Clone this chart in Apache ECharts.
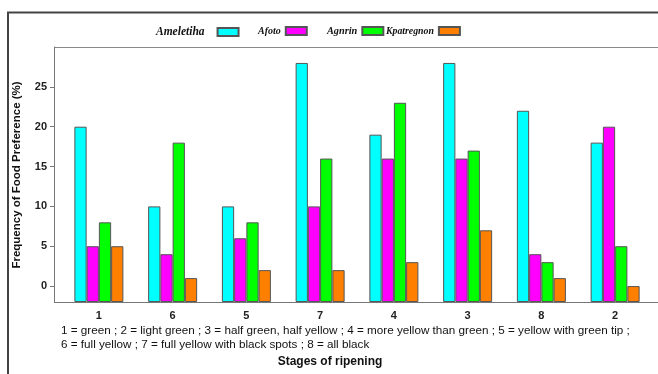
<!DOCTYPE html>
<html><head><meta charset="utf-8">
<script src="https://cdn.jsdelivr.net/npm/echarts@6/dist/echarts.min.js"></script>
<style>html,body{margin:0;padding:0;background:#fff}#c{width:658px;height:374px}</style>
</head><body><div id="c"></div>
<script>
const categories = ['1','6','5','7','4','3','8','2'];
const seriesNames = ['Ameletiha','Afoto','Agnrin','Kpatregnon'];
const ameletiha = [20,10,10,28,19,28,22,18];
const afoto = [5,4,6,10,16,16,4,20];
const agnrin = [8,18,8,16,23,17,3,5];
const kpatregnon = [5,1,2,2,3,7,1,0];
const yTicks = [0,5,10,15,20,25];
const colors = ['#00FFFF','#FF00FF','#00FF00','#FF7F00'];
const footnote1 = '1 = green ; 2 = light green ; 3 = half green, half yellow ; 4 = more yellow than green ; 5 = yellow with green tip ;';
const footnote2 = '6 = full yellow ; 7 = full yellow with black spots ; 8 = all black';
const xTitle = 'Stages of ripening';
const yTitle = 'Frequency of Food Preference (%)';

const allData = [ameletiha, afoto, agnrin, kpatregnon];
const legendPos = [
  {left: 156, size: 11.5, pad: 8},
  {left: 258, size: 10, pad: 0},
  {left: 327, size: 10.3, pad: 0},
  {left: 386, size: 9.8, pad: 0}
];

const chart = echarts.init(document.getElementById('c'), null, {renderer: 'canvas'});
chart.setOption({
  animation: false,
  backgroundColor: '#fff',
  grid: {left: 62, right: 6, top: 47, bottom: 72, containLabel: false},
  legend: seriesNames.map((n, i) => ({
    data: [n], left: legendPos[i].left, top: 26, padding: 0, align: 'right',
    itemWidth: 21, itemHeight: 8, itemGap: 0, icon: 'rect',
    textStyle: {fontFamily: 'Liberation Serif', fontStyle: 'italic', fontWeight: 'bold',
      fontSize: legendPos[i].size, color: '#111', padding: [0, legendPos[i].pad, 0, 0]}
  })),
  xAxis: {
    type: 'category', data: categories,
    axisLine: {show: false}, axisTick: {show: false},
    axisLabel: {fontFamily: 'Liberation Sans', fontWeight: 'bold', fontSize: 11, color: '#222', margin: 8}
  },
  yAxis: {
    type: 'value', min: -2, max: 30, startValue: -2, offset: 8,
    axisLine: {show: true, lineStyle: {color: '#777', width: 1}},
    axisTick: {show: true, length: 4, customValues: yTicks, lineStyle: {color: '#777'}},
    axisLabel: {customValues: yTicks, margin: 7, fontFamily: 'Liberation Sans', fontWeight: 'bold', fontSize: 11, color: '#222'},
    splitLine: {show: false}
  },
  series: seriesNames.map((n, i) => ({
    name: n, type: 'bar', data: allData[i], barWidth: 12.25, barGap: '0%',
    itemStyle: {color: colors[i], borderColor: '#555', borderWidth: 1}
  })),
  graphic: [
    {type: 'polyline', shape: {points: [[8, 374], [8, 12.5], [658, 12.5]]}, style: {stroke: '#444', lineWidth: 2, fill: null}},
    {type: 'line', shape: {x1: 54, y1: 47.5, x2: 658, y2: 47.5}, style: {stroke: '#888', lineWidth: 1}},
    {type: 'line', shape: {x1: 54, y1: 302.5, x2: 658, y2: 302.5}, style: {stroke: '#777', lineWidth: 1}},
    {type: 'text', x: 61, y: 331, style: {text: footnote1, font: '11.7px "Liberation Sans"', fill: '#111', textVerticalAlign: 'middle'}},
    {type: 'text', x: 61, y: 345, style: {text: footnote2, font: '11.7px "Liberation Sans"', fill: '#111', textVerticalAlign: 'middle'}},
    {type: 'text', x: 330, y: 362, style: {text: xTitle, font: 'bold 12px "Liberation Sans"', fill: '#111', textAlign: 'center', textVerticalAlign: 'middle'}},
    {type: 'text', x: 17, y: 175, rotation: Math.PI / 2, style: {text: yTitle, font: 'bold 11.5px "Liberation Sans"', fill: '#111', textAlign: 'center', textVerticalAlign: 'middle'}}
  ]
});
</script></body></html>
